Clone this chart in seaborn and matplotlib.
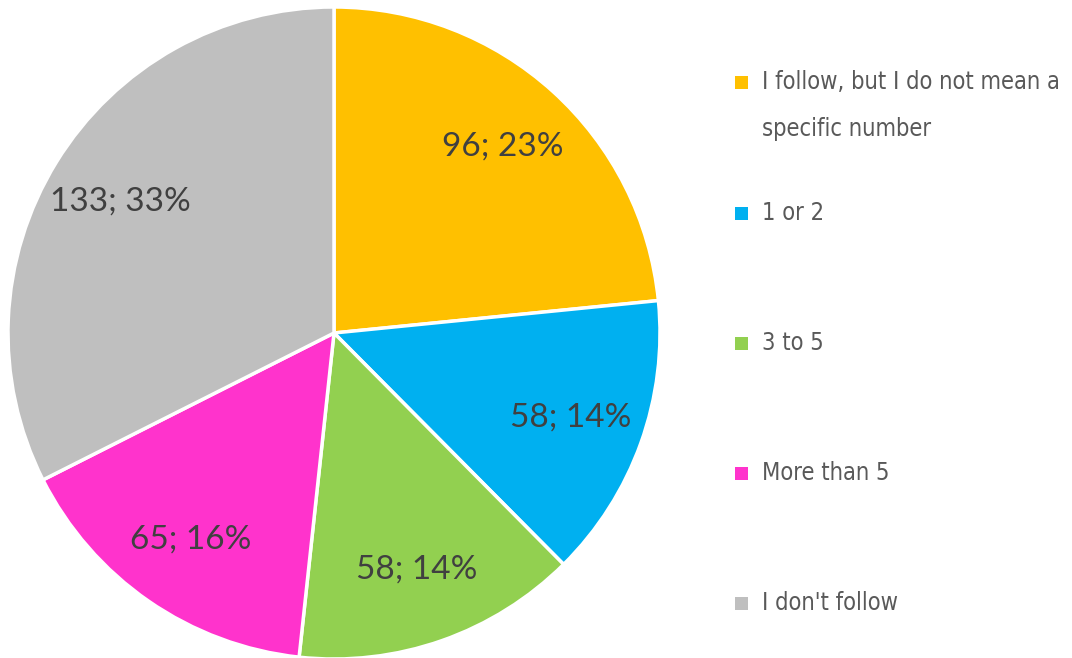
import matplotlib
matplotlib.use("Agg")
import matplotlib.pyplot as plt
from matplotlib.patches import Rectangle
import seaborn as sns

sns.set_theme(style="white")
plt.rcParams['font.family'] = ['Lato', 'DejaVu Sans']

categories = ["I follow, but I do not mean a\nspecific number", "1 or 2", "3 to 5", "More than 5", "I don't follow"]
values = [96, 58, 58, 65, 133]
percent_labels = ["23%", "14%", "14%", "16%", "33%"]
colors = ["#FFC000", "#00B0F0", "#92D050", "#FF33CC", "#BFBFBF"]

W, H = 1072, 658
fig = plt.figure(figsize=(W / 100, H / 100), dpi=100)
cx, cy, r = 334, 333, 326
ax = fig.add_axes([(cx - r) / W, (H - cy - r) / H, 2 * r / W, 2 * r / H])

texts = [f"{v}; {p}" for v, p in zip(values, percent_labels)]
wedges, lbls = ax.pie(values, colors=colors, startangle=90, counterclock=False,
                      labels=texts, labeldistance=0.77,
                      wedgeprops=dict(edgecolor="white", linewidth=2.5),
                      textprops=dict(fontsize=24, color="#404040", ha="center", va="center"))
for t in lbls:
    t.set_ha("center")
ax.set_xlim(-1, 1)
ax.set_ylim(-1, 1)
ax.set_aspect("equal")

rows_y = [82, 213, 343, 473, 603]
for lab, col, y in zip(categories, colors, rows_y):
    sq = 13
    fig.patches.append(Rectangle(((735) / W, (H - y - sq / 2) / H), sq / W, sq / H,
                                 transform=fig.transFigure, facecolor=col, edgecolor="none"))
    multi = "\n" in lab
    fig.text(762 / W, (H - y + (12 if multi else 0)) / H, lab, fontsize=17, color="#595959",
             family="DejaVu Sans", fontstretch="condensed", ha="left",
             va="top" if multi else "center", linespacing=2.2)

fig.savefig("out.png", dpi=100)
